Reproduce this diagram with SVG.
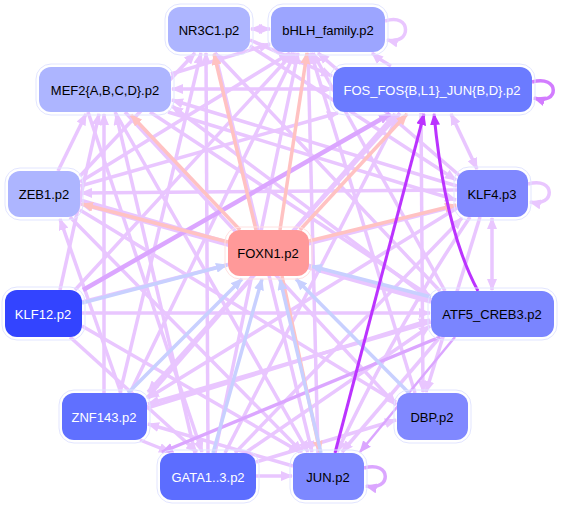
<svg xmlns="http://www.w3.org/2000/svg" width="562" height="507" viewBox="0 0 562 507">
<style>
.e{fill:none;stroke:#e9c6ff;stroke-width:3.5;marker-end:url(#aL)}
.m{fill:none;stroke:#dba6ff;stroke-width:3.5;marker-end:url(#aM)}
.s{fill:none;stroke:#ffc2c2;stroke-width:3.5;marker-end:url(#aS)}
.b{fill:none;stroke:#c8d0ff;stroke-width:3.5;marker-end:url(#aB)}
.p{fill:none;stroke:#bb33ff;stroke-width:3;marker-end:url(#aP)}
.d{marker-start:url(#aLs)}
.halo{fill:none;stroke:#e2e5ff;stroke-width:1}
.n text{font-family:"Liberation Sans",Arial,sans-serif;font-size:13px;text-anchor:middle;dominant-baseline:central}
.bk{fill:#000}
.wh{fill:#fff}
</style>
<defs>
<marker id="aL" markerUnits="userSpaceOnUse" markerWidth="12" markerHeight="10" refX="11" refY="5" orient="auto"><path d="M0,0 L12,5 L0,10z" fill="#e9c6ff"/></marker>
<marker id="aLs" markerUnits="userSpaceOnUse" markerWidth="12" markerHeight="10" refX="11" refY="5" orient="auto-start-reverse"><path d="M0,0 L12,5 L0,10z" fill="#e9c6ff"/></marker>
<marker id="aM" markerUnits="userSpaceOnUse" markerWidth="12" markerHeight="10" refX="11" refY="5" orient="auto"><path d="M0,0 L12,5 L0,10z" fill="#dba6ff"/></marker>
<marker id="aD" markerUnits="userSpaceOnUse" markerWidth="12" markerHeight="10" refX="11" refY="5" orient="auto"><path d="M0,0 L12,5 L0,10z" fill="#d27cff"/></marker>
<marker id="aS" markerUnits="userSpaceOnUse" markerWidth="12" markerHeight="10" refX="11" refY="5" orient="auto"><path d="M0,0 L12,5 L0,10z" fill="#ffc2c2"/></marker>
<marker id="aB" markerUnits="userSpaceOnUse" markerWidth="12" markerHeight="10" refX="11" refY="5" orient="auto"><path d="M0,0 L12,5 L0,10z" fill="#c8d0ff"/></marker>
<marker id="aP" markerUnits="userSpaceOnUse" markerWidth="12" markerHeight="10" refX="11" refY="5" orient="auto"><path d="M0,0 L12,5 L0,10z" fill="#bb33ff"/></marker>
</defs>
<rect width="562" height="507" fill="#fff"/>
<g id="edges">
<path class="e" d="M58,171 L86,114"/>
<path class="e" d="M104,393 L104,114"/>
<path class="e" d="M195,453 L116,114"/>
<path class="e" d="M115,112 L308,452"/>
<path class="e" d="M125,112 L396,405"/>
<path class="e" d="M457,186 L172,100"/>
<path class="e" d="M431,300 L172,106"/>
<path class="e" d="M60,290 L99,114"/>
<path class="e" d="M171,74 L270,44"/>
<path class="e d" d="M172,89 L332,89"/>
<path class="e" d="M208,453 L206,53"/>
<path class="e" d="M120,393 L201,53"/>
<path class="e" d="M440,291 L215,53"/>
<path class="e" d="M80,176 L195,53"/>
<path class="e" d="M215,453 L298,53"/>
<path class="e" d="M130,393 L295,53"/>
<path class="e" d="M75,290 L293,53"/>
<path class="e" d="M80,182 L290,53"/>
<path class="e" d="M318,453 L308,53"/>
<path class="e" d="M445,291 L313,53"/>
<path class="e" d="M460,176 L318,53"/>
<path class="e" d="M415,393 L311,53"/>
<path class="e" d="M80,186 L338,113"/>
<path class="e" d="M225,453 L399,114"/>
<path class="e" d="M147,398 L395,114"/>
<path class="e" d="M250,40 L332,76"/>
<path class="e" d="M457,190 L81,193"/>
<path class="e" d="M431,302 L81,204"/>
<path class="e" d="M121,393 L60,219"/>
<path class="e" d="M82,313 L430,313"/>
<path class="e" d="M82,302 L456,206"/>
<path class="e" d="M82,326 L300,452"/>
<path class="e" d="M140,440 L170,452"/>
<path class="e" d="M457,208 L148,398"/>
<path class="e" d="M431,322 L148,404"/>
<path class="e" d="M400,113 L148,392"/>
<path class="e" d="M293,466 L148,424"/>
<path class="e" d="M256,476 L292,476"/>
<path class="e" d="M245,453 L430,326"/>
<path class="e" d="M256,462 L396,420"/>
<path class="e" d="M235,453 L462,218"/>
<path class="e" d="M70,337 L197,452"/>
<path class="e" d="M88,112 L202,452"/>
<path class="e" d="M470,217 Q400,320 337,452"/>
<path class="e" d="M440,337 L342,452"/>
<path class="e" d="M215,53 L312,452"/>
<path class="e" d="M70,217 L302,452"/>
<path class="e" d="M480,217 L426,392"/>
<path class="e" d="M421,113 L423,392"/>
<path class="e" d="M80,210 L396,402"/>
<path class="e" d="M250,46 L456,180"/>
<path class="e" d="M80,200 L430,300"/>
<path class="e" d="M147,408 L430,320"/>
<path class="e" d="M150,112 L430,296"/>
<path class="e" d="M168,112 L456,200"/>
<path class="e" d="M372,53 Q380,60 391,66" style="marker-end:none;marker-start:url(#aLs)"/>
<path class="e d" d="M251,29 L270,29"/>
<path class="e d" d="M492,218 L492,290"/>
<path class="e d" d="M451,114 L477,169"/>
<path class="e" d="M385,21 C412,12 412,46 387,40"/>
<path class="e" d="M528,184 C556,176 556,208 530,202"/>
<path class="m" d="M83,290 L390,114" style="stroke-width:4.5"/>
<path class="m" d="M532,82 C560,74 560,106 534,98" style="stroke:#d27cff;marker-end:url(#aD)"/>
<path class="m" d="M364,468 C392,460 392,492 366,486"/>
<path class="m" d="M440,337 L162,452"/>
<path class="m" d="M455,337 L360,452" style="stroke-width:2.5"/>
<path class="s" d="M256,230 L214,54"/>
<path class="s" d="M240,230 L131,115"/>
<path class="s" d="M228,242 L82,204"/>
<path class="s" d="M280,230 L307,53"/>
<path class="s" d="M300,230 L407,114"/>
<path class="s" d="M309,241 L456,205"/>
<path class="s" d="M282,276 L320,452"/>
<path class="b" d="M82,303 L227,265"/>
<path class="b" d="M128,393 L242,279"/>
<path class="b" d="M213,453 L262,279"/>
<path class="b" d="M321,453 L280,279"/>
<path class="b" d="M409,393 L296,279"/>
<path class="b" d="M431,297 L311,266"/>
<path class="p" d="M335,453 L424,114"/>
<path class="p" d="M478,291 Q445,230 434,114"/>
</g>
<g id="NR3C1" class="n"><rect class="halo" x="165" y="4" width="88" height="51" rx="15"/><rect x="168" y="7" width="82" height="45" rx="12" fill="#adb5ff"/><text class="bk" x="209" y="30">NR3C1.p2</text></g>
<g id="bHLH" class="n"><rect class="halo" x="268" y="4" width="120" height="51" rx="15"/><rect x="271" y="7" width="114" height="45" rx="12" fill="#9ca5ff"/><text class="bk" x="328" y="30">bHLH_family.p2</text></g>
<g id="MEF2" class="n"><rect class="halo" x="36" y="64" width="138" height="51" rx="15"/><rect x="39" y="67" width="132" height="45" rx="12" fill="#adb5ff"/><text class="bk" x="105" y="90">MEF2{A,B,C,D}.p2</text></g>
<g id="FOS" class="n"><rect class="halo" x="330" y="64" width="205" height="51" rx="15"/><rect x="333" y="67" width="199" height="45" rx="12" fill="#6b7bff"/><text class="wh" x="432" y="90">FOS_FOS{B,L1}_JUN{B,D}.p2</text></g>
<g id="ZEB1" class="n"><rect class="halo" x="5" y="168" width="78" height="52" rx="15"/><rect x="8" y="171" width="72" height="46" rx="12" fill="#adb5ff"/><text class="bk" x="44" y="194">ZEB1.p2</text></g>
<g id="KLF4" class="n"><rect class="halo" x="454" y="167" width="77" height="53" rx="15"/><rect x="457" y="170" width="71" height="47" rx="12" fill="#8088ff"/><text class="bk" x="492" y="194">KLF4.p3</text></g>
<g id="FOXN1" class="n"><rect class="halo" x="225" y="227" width="87" height="52" rx="15" style="stroke:#ffe0e0"/><rect x="228" y="230" width="81" height="46" rx="12" fill="#ff9999"/><text class="bk" x="268" y="253">FOXN1.p2</text></g>
<g id="KLF12" class="n"><rect class="halo" x="2" y="287" width="83" height="53" rx="15"/><rect x="5" y="290" width="77" height="47" rx="12" fill="#3344ff"/><text class="wh" x="43" y="314">KLF12.p2</text></g>
<g id="ATF5" class="n"><rect class="halo" x="428" y="288" width="129" height="52" rx="15"/><rect x="431" y="291" width="123" height="46" rx="12" fill="#7a85ff"/><text class="bk" x="492" y="314">ATF5_CREB3.p2</text></g>
<g id="ZNF143" class="n"><rect class="halo" x="59" y="390" width="91" height="53" rx="15"/><rect x="62" y="393" width="85" height="47" rx="12" fill="#6070ff"/><text class="wh" x="104" y="417">ZNF143.p2</text></g>
<g id="DBP" class="n"><rect class="halo" x="394" y="390" width="77" height="53" rx="15"/><rect x="397" y="393" width="71" height="47" rx="12" fill="#8088ff"/><text class="bk" x="432" y="417">DBP.p2</text></g>
<g id="GATA" class="n"><rect class="halo" x="157" y="450" width="102" height="53" rx="15"/><rect x="160" y="453" width="96" height="47" rx="12" fill="#5c6dff"/><text class="wh" x="208" y="477">GATA1..3.p2</text></g>
<g id="JUN" class="n"><rect class="halo" x="290" y="450" width="77" height="53" rx="15"/><rect x="293" y="453" width="71" height="47" rx="12" fill="#7d88ff"/><text class="bk" x="328" y="477">JUN.p2</text></g>
</svg>
